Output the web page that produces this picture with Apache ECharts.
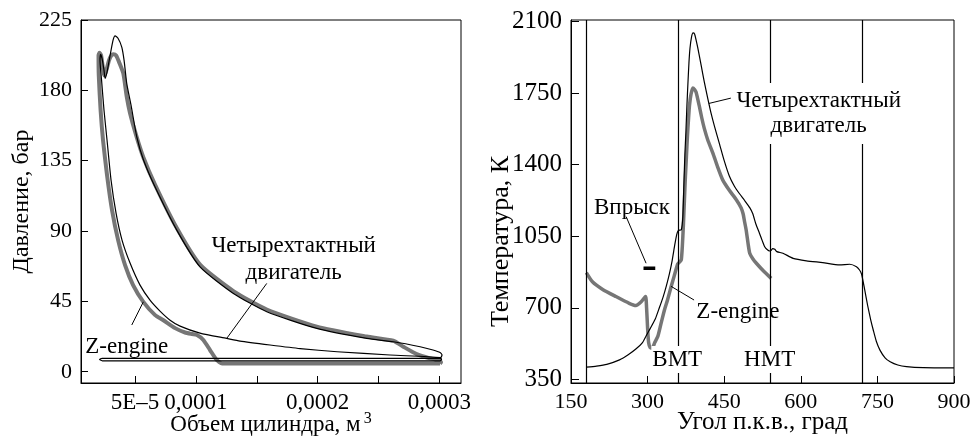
<!DOCTYPE html>
<html><head><meta charset="utf-8">
<script src="https://cdn.jsdelivr.net/npm/echarts@6/dist/echarts.min.js"></script>
<style>html,body{margin:0;padding:0;background:#fff}#c{width:970px;height:441px}</style>
</head><body><div id="c"></div>
<script>
// ---------- data (left: volume in 1e-6 m^3, pressure in bar) ----------
const fourStrokePV = [[22.9,7.0],[300.6,7.0],[301.8,7.8],[300.6,9.1],[259.5,10.7],[216.0,12.8],[185.6,14.8],[160.9,17.1],[136.3,19.6],[125.3,21.3],[103.4,24.7],[87.0,29.2],[78.8,33.0],[70.5,38.8],[62.3,45.8],[54.1,55.4],[45.9,69.5],[39.3,84.2],[34.4,101.4],[30.3,122.5],[27.0,148.1],[24.5,167.3],[22.5,186.5],[21.2,199.2],[21.7,203.1],[22.9,200.5],[24.5,192.8],[25.4,187.7],[27.0,191.6],[29.5,202.4],[31.9,212.0],[33.6,214.9],[36.0,213.3],[39.1,207.7],[41.0,199.2],[43.2,184.3],[46.7,170.5],[51.5,150.0],[56.8,135.8],[66.4,118.3],[84.3,90.6],[103.4,67.1],[130.8,50.1],[158.2,38.4],[199.3,27.7],[240.4,21.3],[262.2,19.2],[284.2,16.0],[294.8,13.9],[300.6,12.3],[302.2,10.7],[300.6,8.6],[22.9,8.6],[20.8,7.8],[22.9,7.0]];
const zEnginePV = [[300.6,5.3],[121.5,5.3],[117.1,7.5],[111.6,13.9],[106.1,20.3],[100.9,23.5],[96.8,24.1],[91.1,25.1],[82.9,27.9],[73.0,33.1],[66.5,36.2],[56.8,44.7],[48.4,55.4],[41.8,68.2],[36.1,84.2],[31.1,103.4],[27.0,125.7],[23.7,148.1],[21.7,167.3],[20.2,189.6],[20.0,202.4],[20.8,204.0],[22.1,202.4],[23.3,196.0],[24.8,189.6],[26.2,192.2],[28.6,199.2],[30.3,202.1],[32.2,203.1],[34.4,202.4],[36.9,198.0],[40.4,190.7],[43.2,175.8],[45.9,165.4],[51.0,151.0],[56.8,137.2],[66.4,119.7],[84.3,91.9],[103.4,68.5],[130.8,51.6],[158.2,39.8],[199.3,28.9],[240.4,22.5],[262.2,19.8],[270.4,16.0],[281.4,11.3],[292.3,8.6],[300.0,7.2],[301.4,6.0],[300.6,5.3]];
const volumeTicks = [0.00005,0.0001,0.00015,0.0002,0.00025,0.0003];
const volumeLabels = [0.00005,0.0001,0.0002,0.0003];
const pressureTicks = [0,45,90,135,180,225];

// ---------- data (right: crank angle in deg, temperature in K) ----------
const fourStrokeT = [[180,410],[200,415],[220,423],[245,445],[262,470],[277,498],[290,530],[297,562],[305,598],[315,645],[323,700],[330,750],[337,810],[343,870],[348,930],[353,1005],[357,1058],[360,1078],[366,1082],[369,1146],[371,1300],[373,1450],[375,1560],[377,1690],[379,1800],[381,1900],[383,1970],[386,2025],[389,2045],[392,2040],[395,2010],[398,1975],[405,1885],[411,1805],[418,1722],[424,1655],[431,1588],[441,1500],[450,1420],[460,1345],[470,1295],[480,1258],[490,1225],[500,1190],[506,1160],[512,1110],[519,1065],[525,1025],[529,1000],[534,985],[539,978],[542,982],[545,990],[549,986],[553,975],[565,967],[585,942],[611,930],[643,921],[676,910],[696,913],[709,901],[715,885],[719,865],[725,790],[731,710],[737,640],[742,590],[748,535],[755,493],[765,455],[775,436],[790,420],[807,412],[840,407],[900,406]];
const zEngineT = [[180,872],[192,827],[212,790],[238,755],[264,722],[277,711],[287,728],[296,755],[298,700],[300,600],[302,530],[305,505],[309,502],[314,530],[320,560],[326,620],[333,689],[339,738],[346,803],[352,855],[359,915],[363,925],[366,935],[368,1000],[370,1100],[372,1220],[374,1340],[376,1440],[378,1540],[380,1620],[382,1690],[385,1745],[388.5,1775],[392,1768],[395,1755],[401,1690],[406,1630],[411,1578],[418,1520],[428,1456],[437,1390],[447,1326],[460,1275],[474,1228],[483,1190],[487,1160],[490,1120],[493,1081],[497,1010],[500,967],[506,940],[513,918],[527,880],[542,844]];
const deadCentreAngles = [180,360,540,720];
const injectionWindow = [[292,893],[315,893]];
const angleTicks = [150,300,450,600,750,900];
const tempTicks = [350,700,1050,1400,1750,2100];

// ---------- chart ----------
const FONT = 'Liberation Serif';
const GRAY = '#767676';
const toM3 = a => a.map(d => [d[0]*1e-6, d[1]]);
const txt = s => ({color:'#000', fontFamily:FONT, fontSize:s});
const plain = v => String(v);
function volFmt(v){
  if (Math.abs(v-0.00005) < 1e-9) return '5E\u20135';
  return v.toFixed(4).replace('.', ',');
}
const chart = echarts.init(document.getElementById('c'), null, {renderer:'canvas'});
const axisLine = {show:true, onZero:false, lineStyle:{color:'#000', width:1}};
const option = {
  animation:false,
  backgroundColor:'#fff',
  textStyle:{fontFamily:FONT},
  grid:[
    {left:81, right:509, top:20, bottom:58, show:true, borderColor:'#000', borderWidth:1,
     containLabel:false, outerBoundsMode:'none'},
    {left:571, right:16, top:20, bottom:58, show:true, borderColor:'#000', borderWidth:1,
     containLabel:false, outerBoundsMode:'none'}
  ],
  xAxis:[
    {gridIndex:0, type:'value', min:5.6e-6, max:3.178e-4, axisLine, nameMoveOverlap:false,
     axisTick:{show:true, inside:true, length:7, customValues:volumeTicks, lineStyle:{color:'#000'}},
     axisLabel:Object.assign({customValues:volumeLabels, formatter:volFmt, margin:8}, txt(23)),
     splitLine:{show:false},
     name:'Объем цилиндра, м{sup|3}', nameLocation:'middle', nameGap:28,
     nameTextStyle:Object.assign({rich:{sup:{fontFamily:FONT, fontSize:16, color:'#000', padding:[0,0,12,3]}}}, txt(23))},
    {gridIndex:1, type:'value', min:150, max:900, axisLine, nameMoveOverlap:false,
     axisTick:{show:true, inside:true, length:7, customValues:angleTicks, lineStyle:{color:'#000'}},
     axisLabel:Object.assign({customValues:angleTicks, formatter:plain, margin:8}, txt(22)),
     splitLine:{show:false},
     name:'Угол п.к.в., град', nameLocation:'middle', nameGap:27, nameTextStyle:txt(25)}
  ],
  yAxis:[
    {gridIndex:0, type:'value', min:-7.2, max:225, axisLine, nameMoveOverlap:false,
     axisTick:{show:true, inside:true, length:7, customValues:pressureTicks, lineStyle:{color:'#000'}},
     axisLabel:Object.assign({customValues:pressureTicks, formatter:plain, margin:9}, txt(22)),
     splitLine:{show:false},
     name:'Давление, бар', nameLocation:'middle', nameGap:47, nameTextStyle:txt(24)},
    {gridIndex:1, type:'value', min:332, max:2108.3, axisLine, nameMoveOverlap:false,
     axisTick:{show:true, inside:true, length:8, customValues:tempTicks, lineStyle:{color:'#000'}},
     axisLabel:Object.assign({customValues:tempTicks, formatter:plain, margin:9}, txt(25)),
     splitLine:{show:false},
     name:'Температура, К', nameLocation:'middle', nameGap:57,
     nameTextStyle:Object.assign({padding:[0,80,0,0]}, txt(26))}
  ],
  series:[
    {type:'line', xAxisIndex:0, yAxisIndex:0, data:toM3(zEnginePV), symbol:'none', smooth:0.2,
     lineStyle:{color:GRAY, width:4, join:'round'}, z:2},
    {type:'line', xAxisIndex:0, yAxisIndex:0, data:toM3(fourStrokePV), symbol:'none', smooth:0.2,
     lineStyle:{color:'#000', width:1.2, join:'round'}, z:3},
    {type:'line', xAxisIndex:1, yAxisIndex:1, data:zEngineT, symbol:'none', smooth:0.2,
     lineStyle:{color:GRAY, width:3.5, join:'round'}, z:2},
    {type:'line', xAxisIndex:1, yAxisIndex:1, data:fourStrokeT, symbol:'none', smooth:0.2,
     lineStyle:{color:'#000', width:1.2, join:'round'}, z:3,
     markLine:{silent:true, symbol:['none','none'], label:{show:false},
       lineStyle:{color:'#000', width:1.2, type:'solid'},
       data:deadCentreAngles.map(a => ({xAxis:a}))}},
    {type:'line', xAxisIndex:1, yAxisIndex:1, data:injectionWindow, symbol:'none',
     lineStyle:{color:'#000', width:3.5, cap:'butt'}, z:4}
  ]
};
chart.setOption(option);

// ---------- annotations (anchored in data coordinates) ----------
const NOTE_FS = 23;
const notes = [
  {g:0, at:[180.3e-6, 71.8], text:'Четырехтактный\nдвигатель', lh:27, bg:false},
  {g:0, at:[43.2e-6, 16.0], text:'Z-engine', bg:false},
  {g:1, at:[635, 1651], text:'Четырехтактный\nдвигатель', lh:25, bg:true, pad:[1,4,10,4]},
  {g:1, at:[269.4, 1190], text:'Впрыск', bg:false},
  {g:1, at:[476.7, 682], text:'Z-engine', bg:false},
  {g:1, at:[358, 447], text:'ВМТ', bg:true, pad:[2,1,2,1]},
  {g:1, at:[539, 447], text:'НМТ', bg:true, pad:[2,1,2,1]}
];
const leaders = [
  {g:0, from:[158.2e-6, 56.5], to:[125.3e-6, 21.3]},
  {g:0, from:[47.3e-6, 29.9], to:[56.8e-6, 44.7]},
  {g:1, from:[420, 1700], to:[463, 1726]},
  {g:1, from:[258, 1146], to:[297, 918]},
  {g:1, from:[346, 805], to:[391, 738]}
];
const graphic = [];
leaders.forEach(l => {
  const a = chart.convertToPixel({gridIndex:l.g}, l.from);
  const b = chart.convertToPixel({gridIndex:l.g}, l.to);
  graphic.push({type:'line', z:100, silent:true, shape:{x1:a[0], y1:a[1], x2:b[0], y2:b[1]},
    style:{stroke:'#000', lineWidth:1}});
});
notes.forEach(n => {
  const p = chart.convertToPixel({gridIndex:n.g}, n.at);
  const st = {text:n.text, fill:'#000', fontFamily:FONT, fontSize:NOTE_FS, align:'center', verticalAlign:'middle'};
  if (n.lh) st.lineHeight = n.lh;
  if (n.bg) { st.backgroundColor = '#fff'; st.padding = n.pad; }
  graphic.push({type:'text', z:101, silent:true, x:p[0], y:p[1], style:st});
});
chart.setOption({graphic});
</script>
</body></html>
